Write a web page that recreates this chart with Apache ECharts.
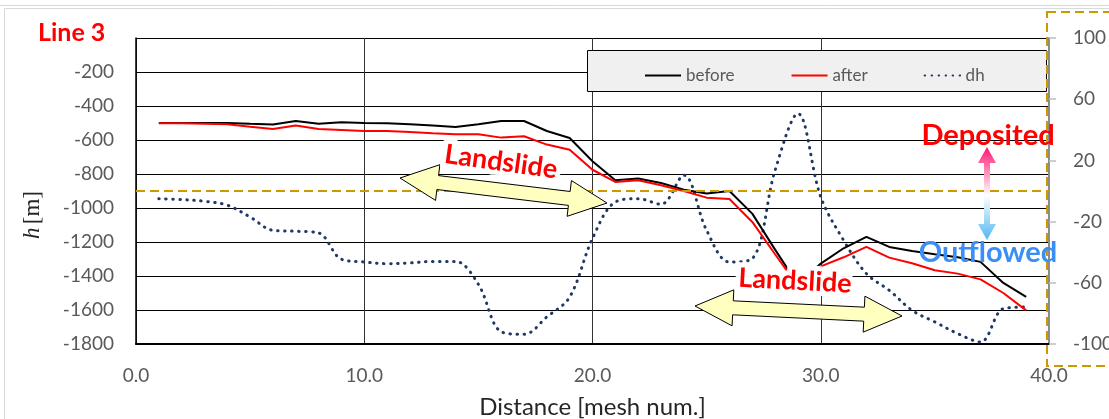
<!DOCTYPE html>
<html><head><meta charset="utf-8">
<script src="https://cdn.jsdelivr.net/npm/echarts@6/dist/echarts.min.js"></script>
<style>html,body{margin:0;padding:0;background:#fff}#c{width:1109px;height:419px}</style>
</head><body><div id="c"></div>
<script>
// ---- data ----
const distance = [1,2,3,4,5,6,7,8,9,10,11,12,13,14,15,16,17,18,19,20,21,22,23,24,25,26,27,28,29,30,31,32,33,34,35,36,37,38,39];
const before = [-500,-500,-500,-500,-505,-509,-488,-504,-496,-500,-502,-507,-515,-523,-508,-488,-488,-547,-588,-725,
  -837,-827,-853,-892,-915,-900,-1033,-1245,-1450,-1327,-1237,-1170,-1229,-1253,-1272,-1290,-1317,-1441,-1523];
const after = [-502,-502,-504,-508,-522,-535,-515,-535,-541,-547,-547,-553,-560,-566,-566,-586,-578,-627,-657,-775,
  -847,-837,-866,-900,-939,-947,-1082,-1272,-1460,-1343,-1290,-1229,-1292,-1325,-1366,-1386,-1420,-1500,-1602];
const dh = [-5,-5.6,-6.7,-9.3,-17,-25.7,-26.3,-27.4,-44.6,-46.4,-47.5,-47,-46,-46,-61,-92,-93.7,-82.3,-69.3,-31,
  -7.2,-5,-8.7,10.3,-25.7,-46.4,-44.2,13.5,50.6,-3.9,-32.2,-54,-64.9,-78,-85.6,-93.2,-98.7,-76.9,-75.8];
const seriesNames = ['before','after','dh'];
const xRange = {min:0, max:40, interval:10};
const hRange = {min:-1800, max:0, interval:200};
const dhRange = {min:-100, max:100, interval:40};

const FONT = 'Lato, "Noto Sans", sans-serif';
const GRAY = '#595959';

function dblArrow(x1,y1,x2,y2,sh,hh,hl){
  const dx=x2-x1, dy=y2-y1, L=Math.hypot(dx,dy), ux=dx/L, uy=dy/L, nx=-uy, ny=ux;
  const P=(t,n)=>[x1+ux*t+nx*n, y1+uy*t+ny*n];
  return [P(0,0),P(hl,hh),P(hl,sh),P(L-hl,sh),P(L-hl,hh),P(L,0),P(L-hl,-hh),P(L-hl,-sh),P(hl,-sh),P(hl,-hh)];
}
function glowText(text, x, y, rotDeg, size, color){
  const base = {text:text, x:0, y:0, align:'center', verticalAlign:'middle', textAlign:'center', textVerticalAlign:'middle',
    font:'bold '+size+'px '+FONT};
  return {type:'group', x:x, y:y, rotation:rotDeg*Math.PI/180, z:100, children:[
    {type:'text', z:100, style:Object.assign({}, base, {fill:'rgba(255,255,255,0.95)', stroke:'rgba(255,255,255,0.95)', lineWidth:10})},
    {type:'text', z:101, style:Object.assign({}, base, {fill:color})}
  ]};
}
function plainText(text, x, y, size, color){
  return {type:'text', z:100, style:{text:text, x:x, y:y, align:'center', verticalAlign:'middle', textAlign:'center', textVerticalAlign:'middle',
    font:'bold '+size+'px '+FONT, fill:color}};
}

const chart = echarts.init(document.getElementById('c'), null, {renderer:'canvas'});
const option = {
  backgroundColor:'#fff',
  animation:false,
  grid:{left:136, right:60, top:38, bottom:75, containLabel:false, outerBoundsMode:'none'},
  legend:{
    data:seriesNames, left:639, top:62, itemGap:56, itemWidth:36, itemHeight:14,
    itemStyle:{opacity:0},
    textStyle:{fontSize:17, color:GRAY, fontFamily:FONT}, z:5
  },
  xAxis:{
    type:'value', min:xRange.min, max:xRange.max, interval:xRange.interval,
    axisLine:{onZero:false, lineStyle:{color:'#000', width:2}},
    axisTick:{show:false},
    splitLine:{show:true, lineStyle:{color:'#333', width:1}},
    axisLabel:{color:GRAY, fontSize:19, fontFamily:FONT, margin:22, formatter:v=>v.toFixed(1)},
    name:'Distance [mesh num.]', nameLocation:'middle', nameGap:51,
    nameTextStyle:{color:'#262626', fontSize:24, fontFamily:FONT}
  },
  yAxis:[{
    type:'value', min:hRange.min, max:hRange.max, interval:hRange.interval,
    axisLine:{show:true, onZero:false, lineStyle:{color:'#000', width:1.5}},
    axisTick:{show:false},
    splitLine:{show:true, lineStyle:{color:'#000', width:1}},
    axisLabel:{color:GRAY, fontSize:19, fontFamily:FONT, margin:22, formatter:v=> v===0 ? '' : String(v)}
  },{
    type:'value', position:'right', min:dhRange.min, max:dhRange.max, interval:dhRange.interval,
    axisLine:{show:true, onZero:false, lineStyle:{color:'#8c8c8c', width:2}},
    axisTick:{show:true, length:7, lineStyle:{color:'#bfbfbf', width:1.5}},
    splitLine:{show:false},
    axisLabel:{color:GRAY, fontSize:19, fontFamily:FONT, margin:24, formatter:v=>String(v)}
  }],
  series:[
    {name:'before', type:'line', yAxisIndex:0, symbol:'none', z:3,
     lineStyle:{color:'#000', width:2}, itemStyle:{color:'#000'},
     data:distance.map((d,i)=>[d,before[i]])},
    {name:'after', type:'line', yAxisIndex:0, symbol:'none', z:4,
     lineStyle:{color:'#ff0000', width:2}, itemStyle:{color:'#ff0000'},
     data:distance.map((d,i)=>[d,after[i]])},
    {name:'dh', type:'line', yAxisIndex:1, symbol:'none', smooth:0.35, z:2,
     lineStyle:{color:'#1f3864', width:3, type:[0.5,6.5], cap:'round'}, itemStyle:{color:'#1f3864'},
     data:distance.map((d,i)=>[d,dh[i]]),
     markLine:{silent:true, symbol:'none', label:{show:false}, animation:false,
       lineStyle:{color:'#cc9900', width:2, type:[9,5]}, data:[{yAxis:0}]}}
  ],
  graphic:[
    {type:'line', z:-1, shape:{x1:0,y1:5.5,x2:1109,y2:5.5}, style:{stroke:'#d9d9d9', lineWidth:1}},
    {type:'rect', z:-1, shape:{x:4.5,y:8.5,width:1120,height:420}, style:{fill:'none', stroke:'#d9d9d9', lineWidth:1}},
    {type:'rect', z:3, shape:{x:587.5,y:50.5,width:459,height:41}, style:{fill:'#f0f0f0', stroke:'#000', lineWidth:1}},
    {type:'rect', z:6, shape:{x:1047,y:12,width:90,height:354}, style:{fill:'none', stroke:'#cc9900', lineWidth:2, lineDash:[9,5]}},
    {type:'text', z:100, style:{text:'Line 3', x:38, y:33, verticalAlign:'middle', textVerticalAlign:'middle', font:'bold 25px '+FONT, fill:'#ff0000'}},
    {type:'text', z:100, rotation:Math.PI/2, x:33, y:215, style:{
      text:'{i|h} {n|[m]}', x:0, y:0, align:'center', verticalAlign:'middle', textAlign:'center', textVerticalAlign:'middle',
      rich:{i:{fontFamily:'"Liberation Serif", serif', fontStyle:'italic', fontSize:23, fill:'#262626', color:'#262626'},
            n:{fontFamily:'"Liberation Serif", serif', fontSize:23, fill:'#262626', color:'#262626'}}}},
    {type:'polygon', z:90, shape:{points:dblArrow(400,178,607,203,7,18,38)}, style:{fill:'#ffffc0', stroke:'#000', lineWidth:1}},
    {type:'polygon', z:90, shape:{points:dblArrow(695,306,902,316,7,18,38)}, style:{fill:'#ffffc0', stroke:'#000', lineWidth:1}},
    glowText('Landslide', 501, 162, -8, 27, '#ff0000'),
    glowText('Landslide', 795, 281, -3, 27, '#ff0000'),
    {type:'polygon', z:95, shape:{points:dblArrow(987,147,987,240,3,9,16)}, style:{
      fill:new echarts.graphic.LinearGradient(0,0,0,1,[{offset:0,color:'#ff1670'},{offset:0.52,color:'#ffffff'},{offset:1,color:'#4fb8f2'}])}},
    plainText('Deposited', 988, 136, 29, '#ff0000'),
    plainText('Outflowed', 988, 253, 29, '#3a8ef6')
  ]
};
chart.setOption(option);
</script></body></html>
